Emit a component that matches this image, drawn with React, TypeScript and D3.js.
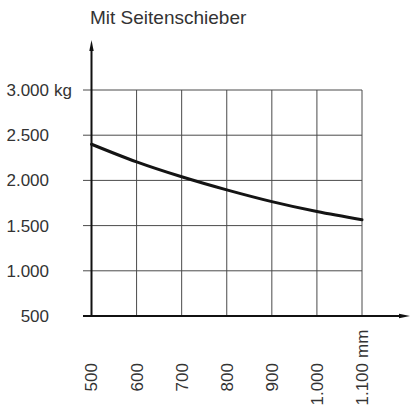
import React from 'react';
import * as d3 from 'd3';

// Tragfähigkeit mit Seitenschieber
const loadCentres = [500, 600, 700, 800, 900, 1000, 1100]; // mm
const capacities = [2400, 2205, 2040, 1895, 1765, 1655, 1565]; // kg
const yTicks = [500, 1000, 1500, 2000, 2500, 3000];
const yTickLabels = ['500', '1.000', '1.500', '2.000', '2.500', '3.000'];
const xTickLabels = ['500', '600', '700', '800', '900', '1.000', '1.100'];
const title = 'Mit Seitenschieber';

const W = 410;
const H = 405;
const FONT = '"Liberation Sans", Arial, Helvetica, sans-serif';
const TEXT = '#333';

const App: React.FC = () => {
    const x = d3.scaleLinear().domain([500, 1100]).range([91.5, 362]);
    const y = d3.scaleLinear().domain([500, 3000]).range([316, 90]);

    const line = d3.line<number>()
        .x((_, i) => x(loadCentres[i]))
        .y(d => y(d))
        .curve(d3.curveMonotoneX);

    const x0 = x(500);
    const y0 = y(500);

    return (
        <svg width={W} height={H} style={{ position: 'absolute', left: 0, top: 0 }} fontFamily={FONT}>
            <rect width={W} height={H} fill="#fff" />

            <text x={90} y={24} fontSize={19} fill={TEXT}>{title}</text>

            {/* grid */}
            {yTicks.map(t => (
                <line key={'h' + t} x1={83} x2={x(1100)} y1={y(t)} y2={y(t)} stroke="#4a4a4a" strokeWidth={1} />
            ))}
            {loadCentres.slice(1).map(t => (
                <line key={'v' + t} x1={x(t)} x2={x(t)} y1={y(3000)} y2={y0} stroke="#4a4a4a" strokeWidth={1} />
            ))}

            {/* axes with arrows */}
            <line x1={x0} x2={x0} y1={y0} y2={48} stroke="#111" strokeWidth={2} />
            <path d={`M${x0},40 L${x0 - 2.2},51 L${x0 + 2.2},51 Z`} fill="#111" />
            <line x1={83} x2={401} y1={y0} y2={y0} stroke="#111" strokeWidth={2} />
            <path d={`M410,${y0} L399,${y0 - 2.2} L399,${y0 + 2.2} Z`} fill="#111" />

            {/* curve */}
            <path d={line(capacities) ?? ''} fill="none" stroke="#141414" strokeWidth={3} strokeLinecap="round" />

            {/* y labels */}
            {yTicks.map((t, i) => (
                <text key={'yl' + t} x={49} y={y(t)} dy="0.35em" fontSize={17} fill={TEXT} textAnchor="end">
                    {yTickLabels[i]}
                </text>
            ))}
            <text x={54} y={y(3000)} dy="0.35em" fontSize={17} fill={TEXT}>kg</text>

            {/* x labels */}
            {loadCentres.map((t, i) => (
                <text key={'xl' + t} transform={`translate(${x(t)},363) rotate(-90)`} dy="0.35em"
                    fontSize={17} fill={TEXT} textAnchor="end">
                    {xTickLabels[i]}
                </text>
            ))}
            <text transform={`translate(${x(1100)},358) rotate(-90)`} dy="0.35em" fontSize={17} fill={TEXT}>mm</text>
        </svg>
    );
};

export default App;
